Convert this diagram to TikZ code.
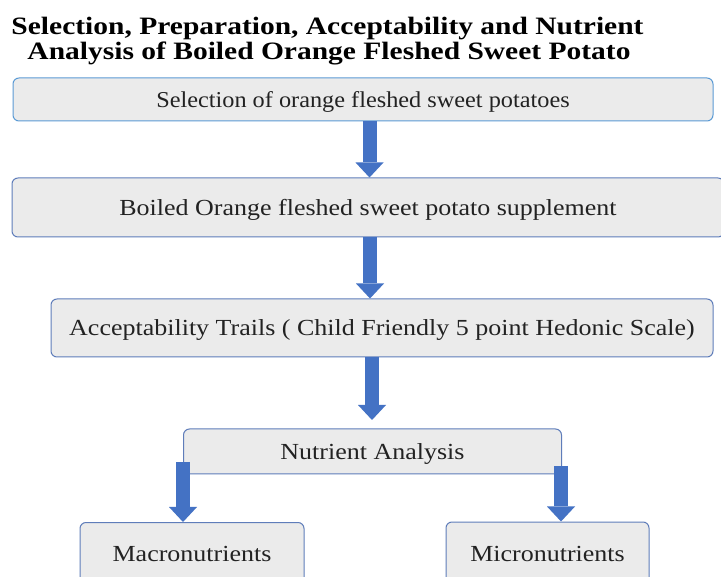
\documentclass[tikz,border=0pt]{standalone}
\usepackage{fontspec}
\setmainfont{Liberation Serif}
\newfontfamily\boxfont[FakeStretch=1.13]{Liberation Serif}
\newfontfamily\boxfontA[FakeStretch=1.07]{Liberation Serif}
\newfontfamily\titlefont[FakeStretch=1.18]{Liberation Serif Bold}
\usetikzlibrary{arrows.meta}
\definecolor{boxfill}{HTML}{EBEBEB}
\definecolor{edgeA}{HTML}{5B9BD5}
\definecolor{edgeB}{HTML}{5F7DBA}
\definecolor{arrowblue}{HTML}{4472C4}
\definecolor{txt}{HTML}{222222}
\begin{document}
\begin{tikzpicture}[x=1pt,y=-1pt,
  titletext/.style={inner sep=0pt, text=black, font=\titlefont\fontsize{25}{28}\selectfont},
  box/.style={draw=edgeB, line width=1pt, fill=boxfill, rounded corners=6pt, inner sep=0pt,
    text height=16pt, text depth=0pt,
    text=txt, font=\boxfont\fontsize{23}{26}\selectfont},
  flow/.style={draw=arrowblue, line width=14pt,
    -{Triangle[width=28pt,length=15pt,line width=0pt]}}]
\useasboundingbox (0,0) rectangle (721,577);
\clip (0,0) rectangle (721,577);
\fill[white] (0,0) rectangle (721,577);

\node[titletext, anchor=base] (t1) at (327.5,35) {Selection, Preparation, Acceptability and Nutrient};
\node[titletext, anchor=base] (t2) at (329,60) {Analysis of Boiled Orange Fleshed Sweet Potato};

\node[box, draw=edgeA, minimum width=700pt, minimum height=43pt,
  font=\boxfontA\fontsize{22.7}{26}\selectfont] (b1) at (363,99.5) {Selection of orange fleshed sweet potatoes};
\node[box, minimum width=712pt, minimum height=59pt] (b2) at (368,207.5) {Boiled Orange fleshed sweet potato supplement};
\node[box, minimum width=662pt, minimum height=58pt] (b3) at (382,328) {Acceptability Trails ( Child Friendly 5 point Hedonic Scale)};
\node[box, minimum width=378pt, minimum height=45pt] (b4) at (372.5,451.5) {Nutrient Analysis};
\node[box, minimum width=224pt, minimum height=62pt] (b5) at (192,553.5) {Macronutrients};
\node[box, minimum width=203pt, minimum height=62pt] (b6) at (547.5,553) {Micronutrients};

\coordinate (a1) at (369.5,0);
\coordinate (a2) at (370,0);
\coordinate (a3) at (372,0);
\coordinate (a3end) at (372,420);
\coordinate (a4start) at (183,462);
\coordinate (a5start) at (561,466);

\draw[flow] (b1.south -| a1) -- (b2.north -| a1);
\draw[flow] (b2.south -| a2) -- (b3.north -| a2);
\draw[flow] (b3.south -| a3) -- (a3end);
\draw[flow] (a4start) -- (b5.north -| a4start);
\draw[flow] (a5start) -- (b6.north -| a5start);
\end{tikzpicture}
\end{document}
